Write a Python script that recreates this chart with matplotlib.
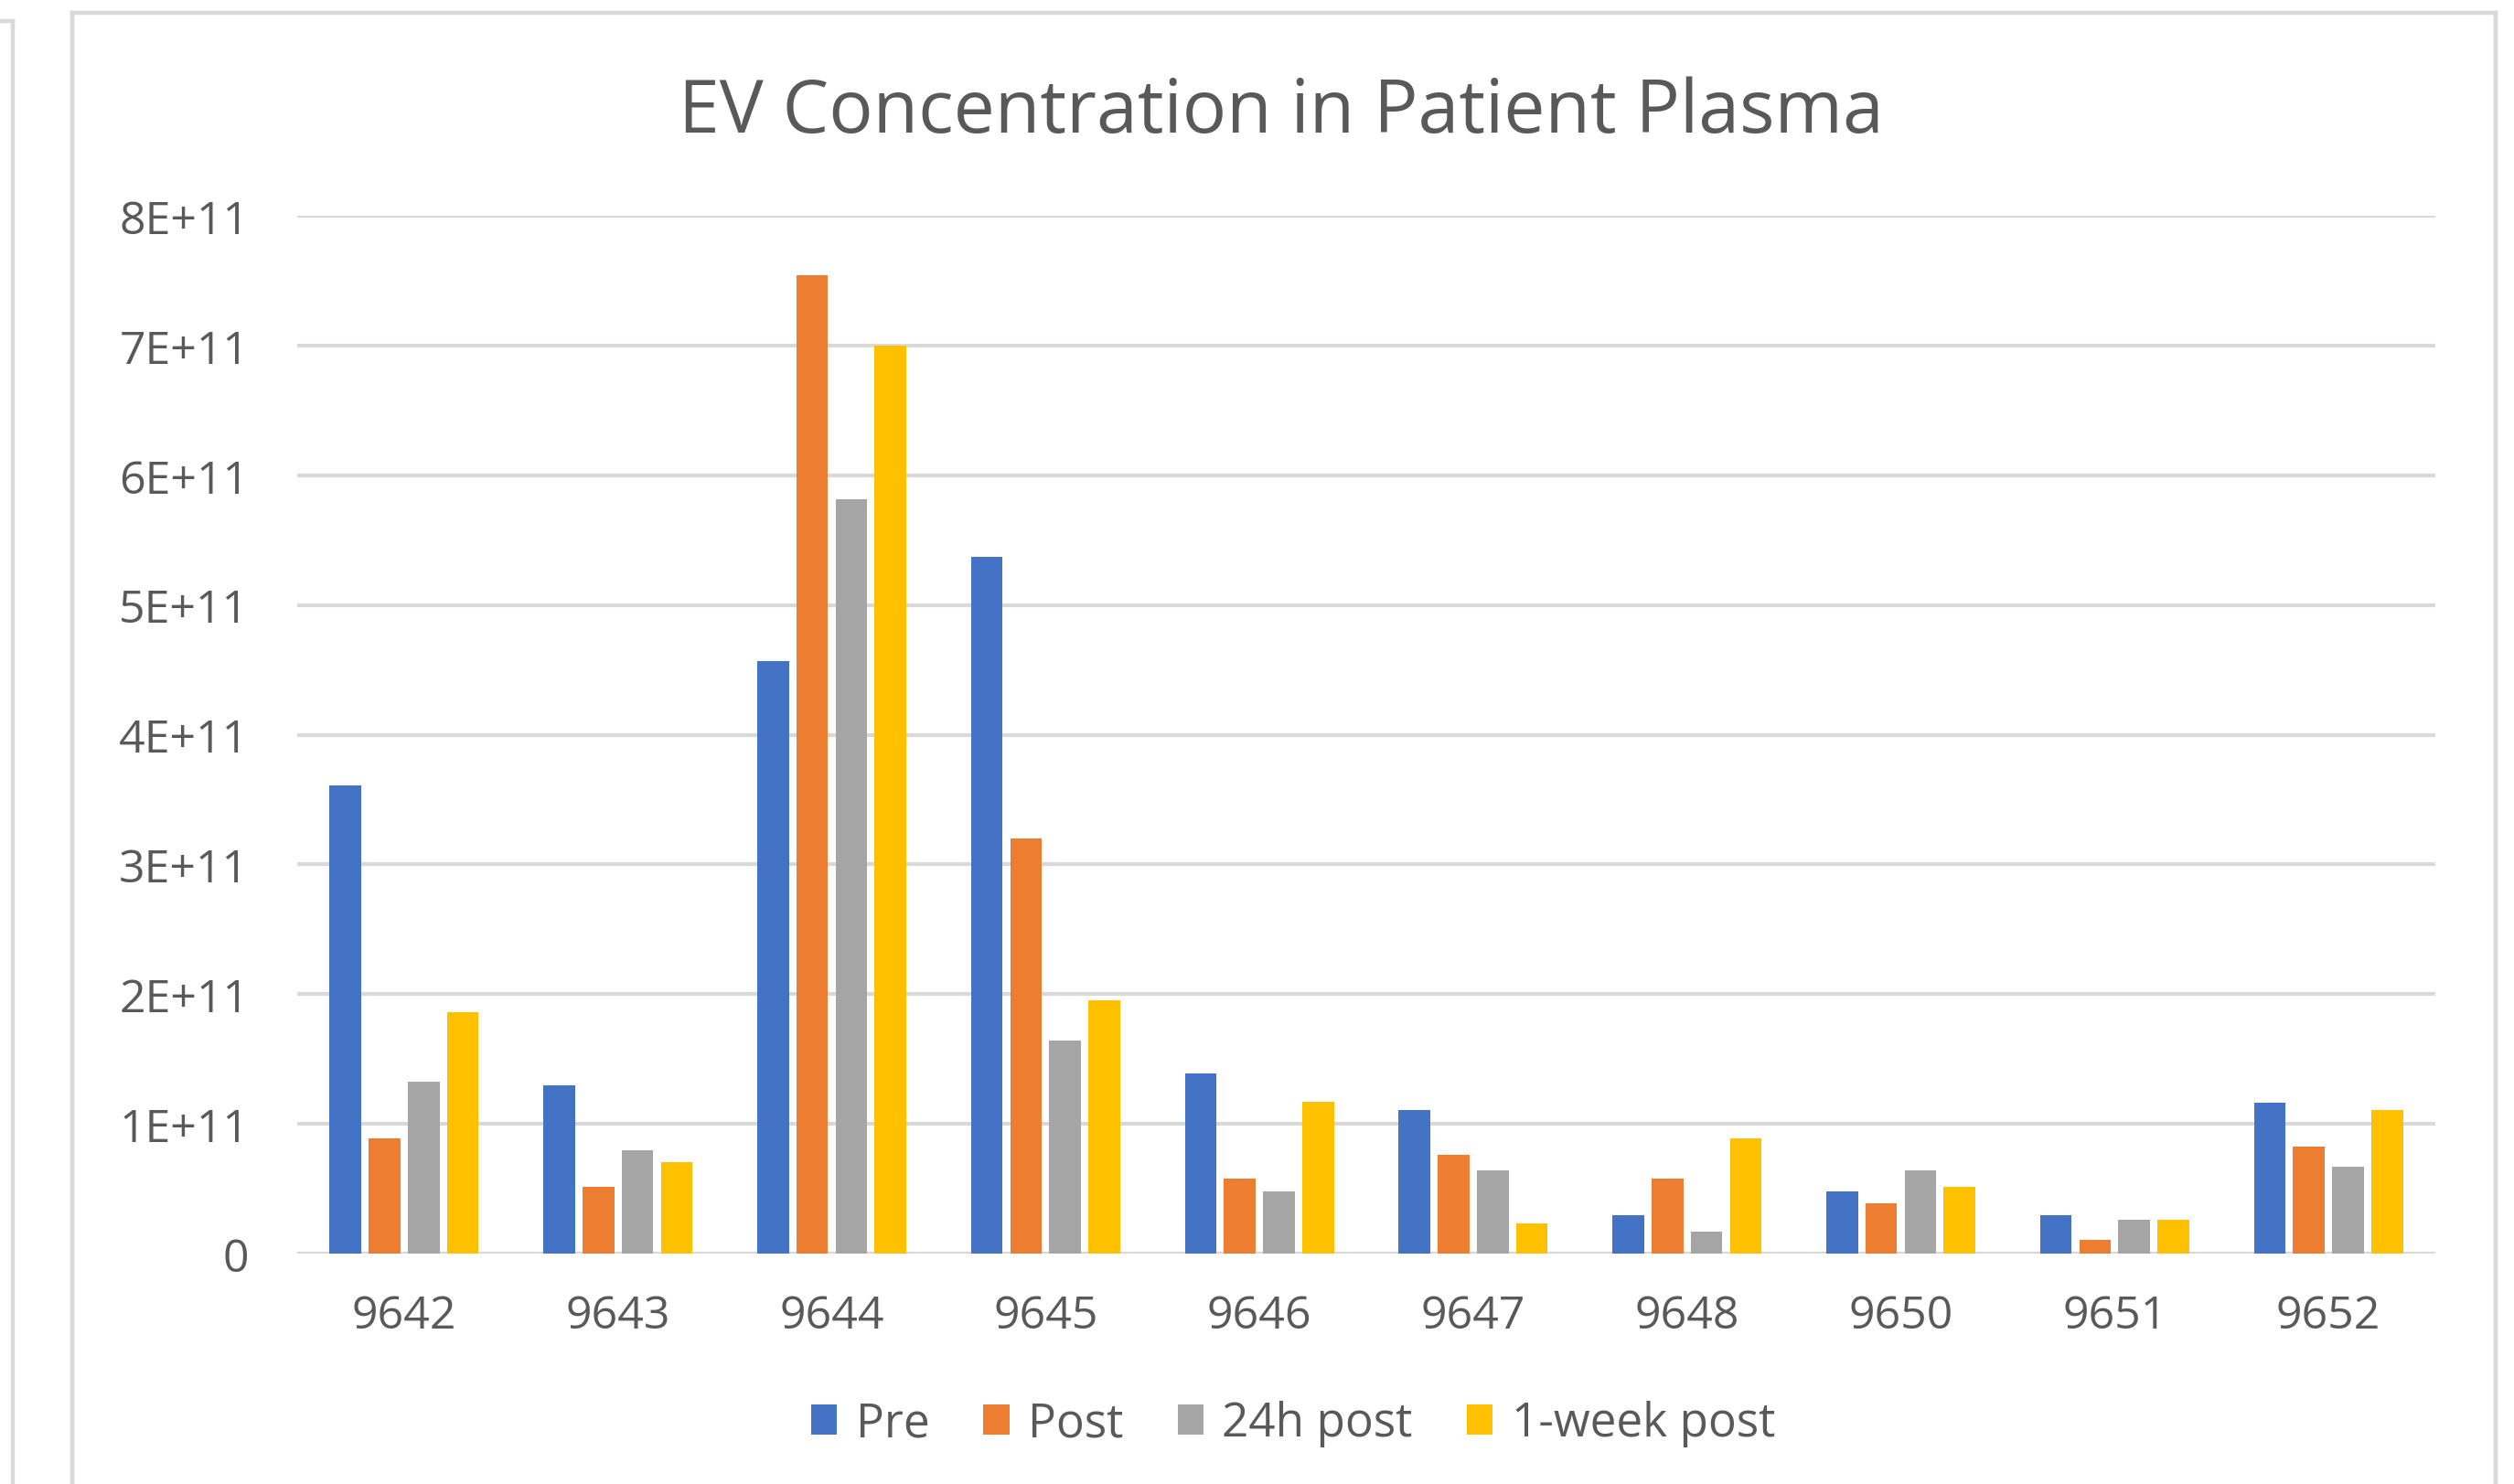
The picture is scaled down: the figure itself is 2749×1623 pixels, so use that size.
import numpy as np
import matplotlib
matplotlib.use("Agg")
import matplotlib.pyplot as plt
from matplotlib.lines import Line2D
from matplotlib.ticker import FixedLocator

plt.rcParams['font.family'] = ['Open Sans', 'DejaVu Sans']

# data (values in units of 1e11)
patients = ['9642', '9643', '9644', '9645', '9646', '9647', '9648', '9650', '9651', '9652']
pre = [3.61, 1.30, 4.57, 5.37, 1.386, 1.105, 0.297, 0.479, 0.297, 1.166]
post = [0.887, 0.515, 7.54, 3.20, 0.578, 0.761, 0.578, 0.39, 0.107, 0.822]
post_24h = [1.323, 0.796, 5.815, 1.64, 0.48, 0.642, 0.171, 0.64, 0.264, 0.668]
post_1wk = [1.86, 0.705, 7.0, 1.95, 1.169, 0.234, 0.886, 0.514, 0.264, 1.105]
series_names = ['Pre', 'Post', '24h post', '1-week post']
colors = ['#4472C4', '#ED7D31', '#A5A5A5', '#FFC000']
yticks = [0, 1e11, 2e11, 3e11, 4e11, 5e11, 6e11, 7e11, 8e11]
ytick_labels = ['0', '1E+11', '2E+11', '3E+11', '4E+11', '5E+11', '6E+11', '7E+11', '8E+11']

W, H = 2749, 1624
fig = plt.figure(figsize=(W / 100, H / 100), dpi=100)
ax = fig.add_axes([325 / W, 1 - 1372 / H, (2663 - 325) / W, (1372 - 237) / H])

x = np.arange(len(patients))
pitch = 0.183
width = 0.148
for i, (vals, name, c) in enumerate(zip([pre, post, post_24h, post_1wk], series_names, colors)):
    ax.bar(x + (i - 1.5) * pitch, np.array(vals) * 1e11, width, color=c, label=name, zorder=3)

ax.set_xlim(-0.5, len(patients) - 0.5)
ax.set_ylim(0, 8e11)
ax.yaxis.set_major_locator(FixedLocator(yticks))
ax.set_yticklabels(ytick_labels)
ax.set_xticks(x)
ax.set_xticklabels(patients)
ax.tick_params(axis='both', length=0, labelsize=36, labelcolor='#595959')
ax.tick_params(axis='y', pad=38)
ax.tick_params(axis='x', pad=31)
ax.grid(axis='y', color='#d9d9d9', linewidth=3, zorder=0)
ax.set_axisbelow(True)
for s in ax.spines.values():
    s.set_visible(False)

fig.text(1401 / W, 1 - 124 / H, 'EV Concentration in Patient Plasma', fontsize=58,
         color='#595959', ha='center', va='center')

leg = ax.legend(loc='center', bbox_to_anchor=(1414 / W, 1 - 1558 / H), bbox_transform=fig.transFigure,
                ncol=4, frameon=False, fontsize=37, handlelength=0.55, handleheight=0.6,
                handletextpad=0.4, columnspacing=1.15, labelcolor='#595959')

# chart frames
gray = '#d9d9d9'
fig.add_artist(Line2D([79 / W, 79 / W], [0, 1 - 15 / H], color=gray, lw=3.2))
fig.add_artist(Line2D([79 / W, 2729 / W], [1 - 15 / H, 1 - 15 / H], color=gray, lw=3.2))
fig.add_artist(Line2D([2729 / W, 2729 / W], [0, 1 - 15 / H], color=gray, lw=3.2))
fig.add_artist(Line2D([14 / W, 14 / W], [0, 1 - 24 / H], color=gray, lw=3.2))
fig.add_artist(Line2D([0, 14 / W], [1 - 24 / H, 1 - 24 / H], color=gray, lw=3.2))

fig.savefig('out.png', dpi=100, facecolor='white')
